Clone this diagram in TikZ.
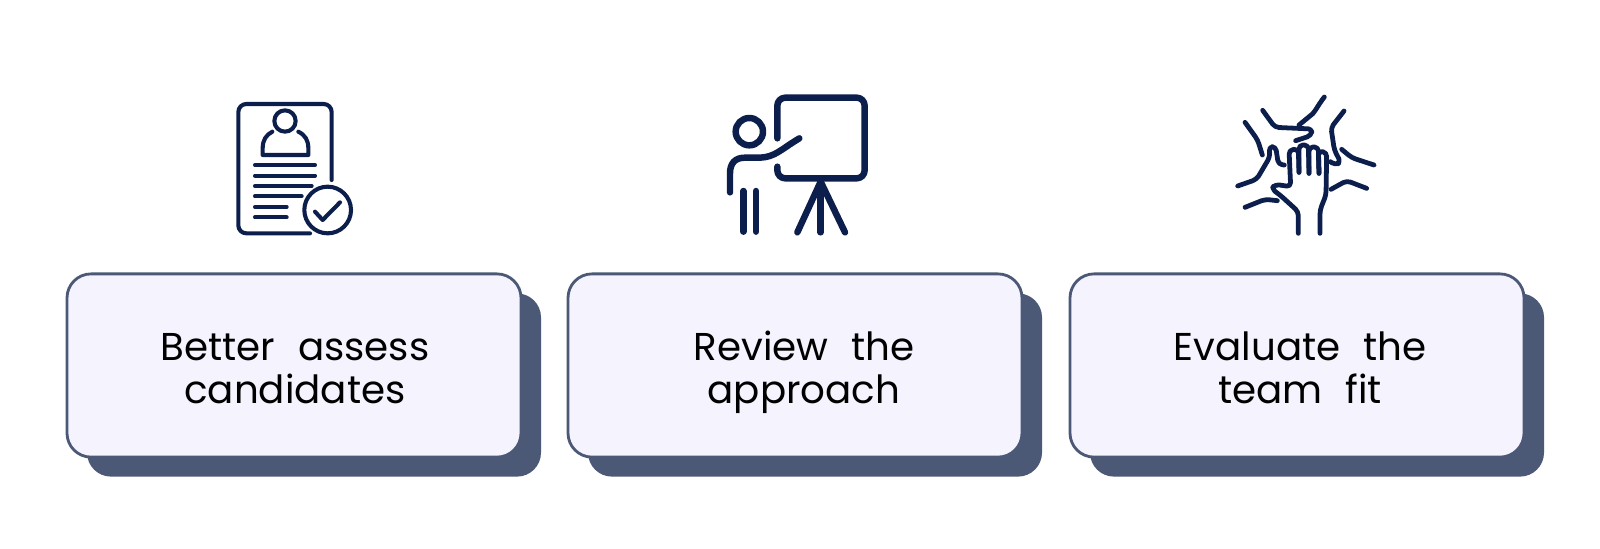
\documentclass[tikz,border=0pt]{standalone}
\usepackage{fontspec}
\setmainfont{Poppins}
\newfontfamily\cardfont[WordSpace=2.2]{Poppins}
\definecolor{cardfill}{HTML}{F5F4FE}
\definecolor{cardedge}{HTML}{4B5876}
\definecolor{iconblue}{HTML}{0C1F4C}
\newcommand{\cardtext}[3][0pt]{\vrule height 11.15mm width 0pt\relax\hspace*{#1}#2\\\hspace*{#1}#3\vrule depth 3mm width 0pt\relax}
\tikzset{
  cardbox/.style={rectangle,rounded corners=6mm,minimum width=113.5mm,minimum height=45.8mm,inner sep=0pt,draw=cardedge,line width=2pt,fill=cardfill,align=center,font=\cardfont\fontsize{27.6}{31}\selectfont},
  cardshadow/.style={rectangle,rounded corners=6mm,minimum width=113.5mm,minimum height=45.8mm,inner sep=0pt,fill=cardedge},
  iconline/.style={draw=iconblue,line cap=round,line join=round,line width=#1}
}
\begin{document}
\begin{tikzpicture}[x=.25mm,y=-.25mm]
  \useasboundingbox (0,0) rectangle (1600,548);
  % cards
  \draw(314,385) node[cardshadow] (shadowA) {};
  \draw(815,385) node[cardshadow] (shadowB) {};
  \draw(1317,385) node[cardshadow] (shadowC) {};
  \draw(294,365.5) node[cardbox] (cardA) {\cardtext[1.4pt]{Better assess}{candidates}};
  \draw(795,365.5) node[cardbox] (cardB) {\cardtext[12.8pt]{Review the}{approach}};
  \draw(1297,365.5) node[cardbox] (cardC) {\cardtext[4.4pt]{Evaluate the}{team fit}};
  % resume
  \begin{scope}[shift={(210,85)},scale=1/3,iconline=2.9pt]
    \draw[rounded corners=2mm] (365,285) -- (365,57) -- (85,57) -- (85,445) -- (300,445);
    \draw (225,108) circle (32);
    \draw (187,140) .. controls (168,150) and (158,165) .. (158,190) -- (158,210) -- (295,210) -- (295,190) .. controls (295,165) and (285,150) .. (265,140);
    \draw (135,240) -- (315,240);
    \draw (135,272) -- (315,272);
    \draw (135,303) -- (305,303);
    \draw (135,334) -- (275,334);
    \draw (135,366) -- (230,366);
    \draw (135,397) -- (230,397);
    \draw (353,375) circle (70);
    \draw (315,380) -- (338,405) -- (390,352);
  \end{scope}
  % presenter
  \begin{scope}[shift={(700,85)},scale=1/3,iconline=4.6pt]
    \draw (148,140) circle (41);
    \draw (90,322) -- (90,265) .. controls (90,235) and (105,218) .. (135,218) -- (180,218) .. controls (225,216) and (240,195) .. (298,160);
    \draw (130,318) -- (130,440);
    \draw (168,318) -- (168,440);
    \draw[rounded corners=2mm] (232,160) -- (232,38) -- (494,38) -- (494,280) -- (232,280) -- (232,245);
    \draw (362,290) -- (292,442);
    \draw (362,290) -- (362,442);
    \draw (362,290) -- (435,442);
  \end{scope}
  % hands
  \begin{scope}[shift={(1225,85)},scale=1/3,iconline=3.4pt]
    \draw (298,36) .. controls (275,65) and (270,85) .. (250,97) -- (222,120);
    \draw[rounded corners=1mm] (113,76) -- (150,127) -- (262,132) -- (258,152) -- (212,167);
    \draw[rounded corners=1mm] (357,78) -- (318,128) -- (328,195) -- (347,232) -- (330,240) -- (316,230);
    \draw[rounded corners=1mm] (350,193) -- (380,218) -- (447,240);
    \draw[rounded corners=1mm] (318,313) -- (365,287) -- (425,310);
    \draw[rounded corners=1mm] (60,367) -- (120,343) -- (157,347);
    \draw[rounded corners=1mm] (60,112) -- (98,165) -- (112,210);
    \draw[rounded corners=1mm] (38,303) -- (95,283) -- (135,215) -- (132,185) -- (152,185) -- (160,238) -- (178,240);
    \draw[rounded corners=1mm] (220,445) -- (220,380) -- (165,330) -- (140,312) -- (150,298) -- (197,305) -- (192,195) -- (220,192) -- (222,262);
    \draw[rounded corners=1mm] (222,262) -- (222,180) -- (250,180) -- (252,265);
    \draw[rounded corners=1mm] (252,265) -- (252,186) -- (280,186) -- (282,265);
    \draw[rounded corners=1mm] (282,265) -- (280,198) -- (305,202) -- (303,330) -- (285,375) -- (285,445);
  \end{scope}
\end{tikzpicture}
\end{document}
